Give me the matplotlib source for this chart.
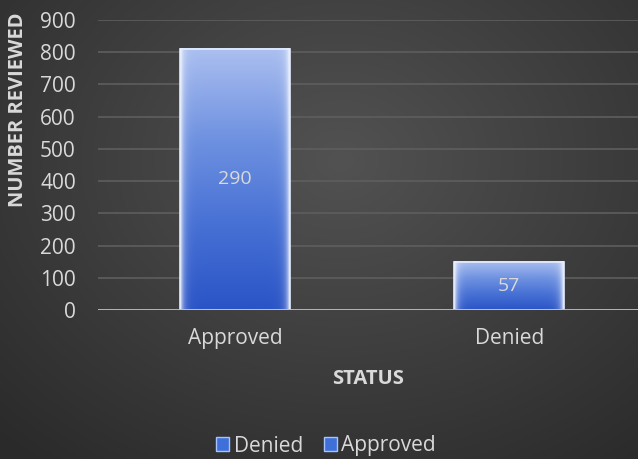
import numpy as np
import matplotlib.pyplot as plt
from matplotlib.patches import Patch
from matplotlib.colors import LinearSegmentedColormap, to_rgb

# ============================
# Review status bar chart
# ============================

statuses = ["Approved", "Denied"]
reviewed = [810, 150]          # bar heights
bar_labels = ["290", "57"]     # labels as printed on the bars
y_ticks = [0, 100, 200, 300, 400, 500, 600, 700, 800, 900]
legend_order = ["Denied", "Approved"]

text_col = "#d9d9d9"
plt.rcParams['font.family'] = ['Open Sans', 'DejaVu Sans']

W, H = 638, 459
fig = plt.figure(figsize=(W / 100, H / 100), dpi=100)

# Dark radial background
bg = fig.add_axes([0, 0, 1, 1], zorder=-10)
yy, xx = np.mgrid[0:H, 0:W]
r = np.sqrt(((xx - 340) / 430.0) ** 2 + ((yy - 160) / 340.0) ** 2)
bg_cmap = LinearSegmentedColormap.from_list("bg", ["#525252", "#2a2a2a"])
bg.imshow(r, cmap=bg_cmap, vmin=0, vmax=1.15, aspect="auto", extent=[0, 1, 0, 1], origin="upper")
bg.set_xlim(0, 1)
bg.set_ylim(0, 1)
bg.axis("off")

ax = fig.add_axes([98 / W, 1 - 310 / H, (W - 98) / W, 290 / H])
ax.patch.set_alpha(0)

x = np.arange(len(statuses))
bar_w = 0.40

# Bar fill: vertical blue gradient with light glowing edges
stops = [(0.0, "#abbff0"), (0.35, "#6e91e0"), (0.65, "#4a73d6"), (1.0, "#2a54c6")]


def bar_image(n_h=200, n_w=60):
    pos = [p for p, _ in stops]
    cols = np.array([to_rgb(c) for _, c in stops])
    t = np.linspace(0, 1, n_h)
    rgb = np.stack([np.interp(t, pos, cols[:, k]) for k in range(3)], axis=1)
    img = np.repeat(rgb[:, None, :], n_w, axis=1)
    s = np.linspace(0, 1, n_w)
    edge = np.exp(-np.minimum(s, 1 - s) / 0.03)[None, :, None]
    img = img + (1 - img) * 0.75 * edge
    return np.clip(img, 0, 1)


bars = ax.bar(x, reviewed, width=bar_w, color="none",
              edgecolor="#e4edff", linewidth=1.2, zorder=3)
img = bar_image()
for xi, h, lab in zip(x, reviewed, bar_labels):
    ax.imshow(img, extent=[xi - bar_w / 2, xi + bar_w / 2, 0, h],
              aspect="auto", zorder=2, interpolation="bilinear")
    ax.text(xi, h / 2, lab, ha="center", va="center",
            color=text_col, fontsize=14, zorder=4)

ax.set_xlim(-0.5, 1.47)
ax.set_ylim(0, 900)
ax.set_yticks(y_ticks)
ax.set_xticks(x)
ax.set_xticklabels(statuses)
ax.grid(axis="y", color="#5e5e5e", linewidth=1.2, zorder=0)
ax.set_axisbelow(True)
for s in ax.spines.values():
    s.set_visible(False)
ax.axhline(0, color="#bdbdbd", linewidth=2, zorder=5)
ax.tick_params(length=0, labelcolor=text_col, labelsize=15)
ax.tick_params(axis="x", pad=13)
ax.tick_params(axis="y", pad=16)

ax.set_xlabel("STATUS", color=text_col, fontsize=14.5, fontweight="bold", labelpad=14)
fig.text(18 / W, 1 - 110 / H, "NUMBER REVIEWED", rotation=90, ha="center",
         va="center", color=text_col, fontsize=14.5, fontweight="bold")

# Legend
handles = [Patch(facecolor="#3f6fd8", edgecolor="#a8c4ff", linewidth=1, label=l)
           for l in legend_order]
fig.legend(handles=handles, loc="center", bbox_to_anchor=(326 / W, 1 - 446 / H),
           ncol=2, frameon=False, fontsize=15, labelcolor=text_col,
           handlelength=0.65, handleheight=0.65, handletextpad=0.2,
           columnspacing=1.0)

fig.savefig("out.png", dpi=100)
